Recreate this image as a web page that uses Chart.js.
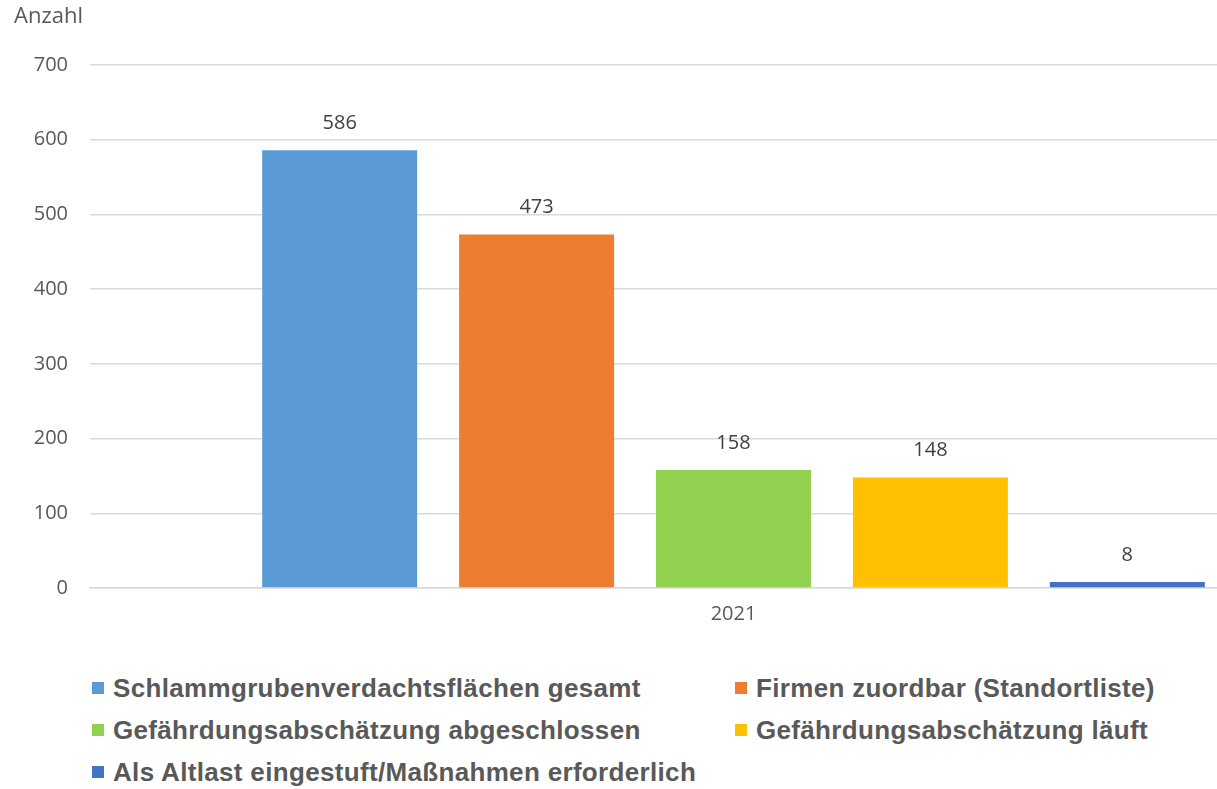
<!DOCTYPE html>
<html lang="de">
<head>
<meta charset="utf-8">
<title>Schlammgrubenverdachtsflächen 2021</title>
<script src="https://cdn.jsdelivr.net/npm/chart.js@4.4.1/dist/chart.umd.min.js"></script>
<style>
  html, body { margin: 0; padding: 0; background: #fff; overflow: hidden; width: 1217px; height: 789px; }
  #wrap { position: absolute; left: 0; top: 0; width: 1377px; height: 650px; }
  #legend {
    position: absolute; left: 92px; top: 667px;
    display: grid; grid-template-columns: 643px auto; grid-auto-rows: 42px;
    font: bold 26px "Liberation Sans", Arial, sans-serif; color: #595959;
    letter-spacing: 0.33px;
  }
  #legend .item { display: flex; align-items: center; white-space: nowrap; }
  #legend .box { width: 12px; height: 12px; margin-right: 9px; flex: none; }
</style>
</head>
<body>
<div id="wrap"><canvas id="chart"></canvas></div>
<div id="legend"></div>
<script>
const categories = ["2021"];
const seriesNames = [
  "Schlammgrubenverdachtsflächen gesamt",
  "Firmen zuordbar (Standortliste)",
  "Gefährdungsabschätzung abgeschlossen",
  "Gefährdungsabschätzung läuft",
  "Als Altlast eingestuft/Maßnahmen erforderlich",
];
const seriesValues = [586, 473, 158, 148, 8];
const seriesColors = ["#5b9bd5", "#ed7d31", "#92d050", "#ffc000", "#4472c4"];
const yTicks = [0, 100, 200, 300, 400, 500, 600, 700];

const tickFont = { family: "'Open Sans', 'Noto Sans', sans-serif", size: 20 };
const textGray = "#595959";
const gridGray = "#d9d9d9";

// values above the bars
const valueLabels = {
  id: "valueLabels",
  afterDatasetsDraw(chart) {
    const ctx = chart.ctx;
    ctx.save();
    ctx.font = "20px 'Open Sans', 'Noto Sans', sans-serif";
    ctx.fillStyle = "#404040";
    ctx.textAlign = "center";
    ctx.textBaseline = "middle";
    chart.data.datasets.forEach((ds, i) => {
      chart.getDatasetMeta(i).data.forEach((bar, j) => {
        ctx.fillText(String(ds.data[j]), bar.x, bar.y - 27);
      });
    });
    ctx.restore();
  },
};

new Chart(document.getElementById("chart").getContext("2d"), {
  type: "bar",
  data: {
    labels: categories,
    datasets: seriesNames.map((name, i) => ({
      label: name,
      data: [seriesValues[i]],
      backgroundColor: seriesColors[i],
      categoryPercentage: 0.765,
      barPercentage: 0.787,
    })),
  },
  options: {
    responsive: true,
    maintainAspectRatio: false,
    animation: false,
    layout: { padding: { left: 14, top: 0, right: 0, bottom: 22 } },
    plugins: {
      legend: { display: false },
      tooltip: { enabled: false },
      title: {
        display: true,
        text: "Anzahl",
        align: "start",
        color: textGray,
        font: { ...tickFont, size: 22, weight: "normal" },
        padding: { top: 4, bottom: 34.6 },
      },
    },
    scales: {
      y: {
        min: 0,
        max: yTicks[yTicks.length - 1],
        afterBuildTicks: (s) => { s.ticks = yTicks.map((v) => ({ value: v })); },
        afterFit: (s) => { s.width = 76; },
        ticks: { color: textGray, font: tickFont, padding: 22 },
        grid: { color: gridGray, lineWidth: 1.5, drawTicks: false },
        border: { display: false },
      },
      x: {
        afterFit: (s) => { s.height = 40; },
        ticks: { color: textGray, font: tickFont, padding: 14 },
        grid: { display: false, drawTicks: false },
        border: { color: gridGray, width: 1.5 },
      },
    },
  },
  plugins: [valueLabels],
});

const legend = document.getElementById("legend");
seriesNames.forEach((name, i) => {
  const item = document.createElement("div");
  item.className = "item";
  const box = document.createElement("span");
  box.className = "box";
  box.style.background = seriesColors[i];
  const label = document.createElement("span");
  label.textContent = name;
  item.append(box, label);
  legend.appendChild(item);
});
</script>
</body>
</html>
